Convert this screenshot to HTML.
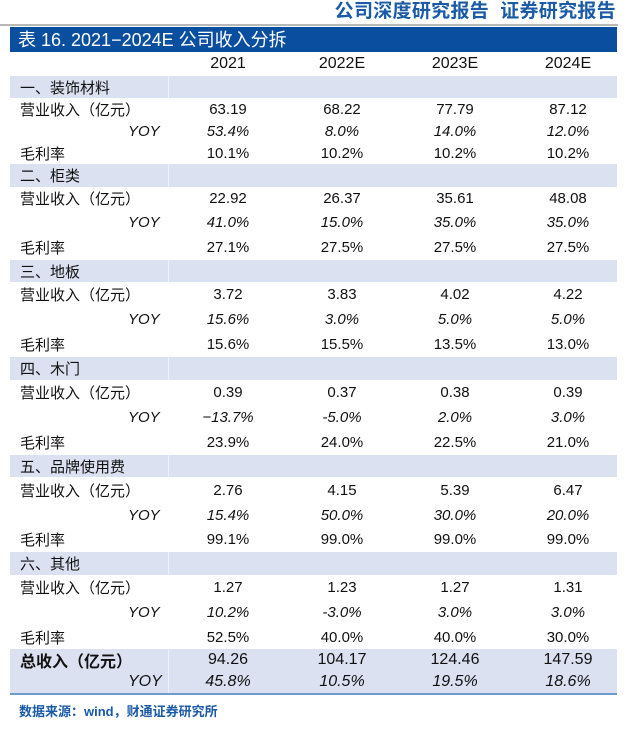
<!DOCTYPE html>
<html><head><meta charset="utf-8"><style>
body{margin:0;width:628px;height:729px;background:#fff;position:relative;font-family:"Liberation Sans","Noto Sans CJK SC",sans-serif;color:#111;overflow:hidden}
.hd{position:absolute;right:12px;top:0;font-size:19px;font-weight:bold;color:#1a5aa6;line-height:24px;font-family:"Liberation Sans","Noto Sans CJK SC",sans-serif;letter-spacing:0.3px}
.gl{position:absolute;left:0;top:24px;width:618px;height:2px;background:#b8b8b8}
.bar{position:absolute;left:10px;top:27px;width:607px;height:25px;background:#0a4f9f;color:#fff;font-size:18px;line-height:26px;padding-left:8px;box-sizing:border-box}
.r{position:absolute;left:10px;width:607px;font-size:15px}
.r.b{background:#dbe1f1}
.r.b::before{content:"";position:absolute;left:158px;top:0;bottom:0;width:1px;background:#eef1f8}
.r div{position:absolute;top:0;height:100%;display:flex;align-items:center}
.l{left:10px}
.y{left:118px;font-style:italic}
.c{justify-content:center;width:112px}
.c1{left:162px}.c2{left:276px}.c3{left:389px}.c4{left:502px}
.i{font-style:italic}
.line{position:absolute;left:10px;top:693px;width:607px;height:2px;background:#6f9bd0}
.src{position:absolute;left:19px;top:701px;font-size:13px;color:#1a5aa6;font-weight:bold}
</style></head><body>
<div class="hd">公司深度研究报告&nbsp;&nbsp;证券研究报告</div>
<div class="gl"></div>
<div class="bar">表 16. 2021−2024E 公司收入分拆</div>

<div class="r" style="top:52px;height:24px;font-size:16px"><div class="c c1">2021</div><div class="c c2">2022E</div><div class="c c3">2023E</div><div class="c c4">2024E</div></div>

<div class="r b" style="top:76px;height:22px"><div class="l">一、装饰材料</div></div>
<div class="r" style="top:98px;height:22px"><div class="l">营业收入（亿元）</div><div class="c c1">63.19</div><div class="c c2">68.22</div><div class="c c3">77.79</div><div class="c c4">87.12</div></div>
<div class="r" style="top:120px;height:23px"><div class="y">YOY</div><div class="c c1 i">53.4%</div><div class="c c2 i">8.0%</div><div class="c c3 i">14.0%</div><div class="c c4 i">12.0%</div></div>
<div class="r" style="top:143px;height:21px"><div class="l">毛利率</div><div class="c c1">10.1%</div><div class="c c2">10.2%</div><div class="c c3">10.2%</div><div class="c c4">10.2%</div></div>

<div class="r b" style="top:164px;height:23px"><div class="l">二、柜类</div></div>
<div class="r" style="top:187px;height:23px"><div class="l">营业收入（亿元）</div><div class="c c1">22.92</div><div class="c c2">26.37</div><div class="c c3">35.61</div><div class="c c4">48.08</div></div>
<div class="r" style="top:210px;height:24px"><div class="y">YOY</div><div class="c c1 i">41.0%</div><div class="c c2 i">15.0%</div><div class="c c3 i">35.0%</div><div class="c c4 i">35.0%</div></div>
<div class="r" style="top:234px;height:26px"><div class="l">毛利率</div><div class="c c1">27.1%</div><div class="c c2">27.5%</div><div class="c c3">27.5%</div><div class="c c4">27.5%</div></div>

<div class="r b" style="top:260px;height:22px"><div class="l">三、地板</div></div>
<div class="r" style="top:282px;height:25px"><div class="l">营业收入（亿元）</div><div class="c c1">3.72</div><div class="c c2">3.83</div><div class="c c3">4.02</div><div class="c c4">4.22</div></div>
<div class="r" style="top:307px;height:25px"><div class="y">YOY</div><div class="c c1 i">15.6%</div><div class="c c2 i">3.0%</div><div class="c c3 i">5.0%</div><div class="c c4 i">5.0%</div></div>
<div class="r" style="top:332px;height:25px"><div class="l">毛利率</div><div class="c c1">15.6%</div><div class="c c2">15.5%</div><div class="c c3">13.5%</div><div class="c c4">13.0%</div></div>

<div class="r b" style="top:357px;height:23px"><div class="l">四、木门</div></div>
<div class="r" style="top:380px;height:25px"><div class="l">营业收入（亿元）</div><div class="c c1">0.39</div><div class="c c2">0.37</div><div class="c c3">0.38</div><div class="c c4">0.39</div></div>
<div class="r" style="top:405px;height:25px"><div class="y">YOY</div><div class="c c1 i">−13.7%</div><div class="c c2 i">-5.0%</div><div class="c c3 i">2.0%</div><div class="c c4 i">3.0%</div></div>
<div class="r" style="top:430px;height:25px"><div class="l">毛利率</div><div class="c c1">23.9%</div><div class="c c2">24.0%</div><div class="c c3">22.5%</div><div class="c c4">21.0%</div></div>

<div class="r b" style="top:455px;height:22px"><div class="l">五、品牌使用费</div></div>
<div class="r" style="top:477px;height:26px"><div class="l">营业收入（亿元）</div><div class="c c1">2.76</div><div class="c c2">4.15</div><div class="c c3">5.39</div><div class="c c4">6.47</div></div>
<div class="r" style="top:503px;height:24px"><div class="y">YOY</div><div class="c c1 i">15.4%</div><div class="c c2 i">50.0%</div><div class="c c3 i">30.0%</div><div class="c c4 i">20.0%</div></div>
<div class="r" style="top:527px;height:25px"><div class="l">毛利率</div><div class="c c1">99.1%</div><div class="c c2">99.0%</div><div class="c c3">99.0%</div><div class="c c4">99.0%</div></div>

<div class="r b" style="top:552px;height:23px"><div class="l">六、其他</div></div>
<div class="r" style="top:575px;height:25px"><div class="l">营业收入（亿元）</div><div class="c c1">1.27</div><div class="c c2">1.23</div><div class="c c3">1.27</div><div class="c c4">1.31</div></div>
<div class="r" style="top:600px;height:25px"><div class="y">YOY</div><div class="c c1 i">10.2%</div><div class="c c2 i">-3.0%</div><div class="c c3 i">3.0%</div><div class="c c4 i">3.0%</div></div>
<div class="r" style="top:625px;height:24px"><div class="l">毛利率</div><div class="c c1">52.5%</div><div class="c c2">40.0%</div><div class="c c3">40.0%</div><div class="c c4">30.0%</div></div>

<div class="r b" style="top:649px;height:44px"></div>
<div class="r" style="top:649px;height:22px;font-size:16px"><div class="l" style="font-weight:bold">总收入（亿元）</div><div class="c c1">94.26</div><div class="c c2">104.17</div><div class="c c3">124.46</div><div class="c c4">147.59</div></div>
<div class="r" style="top:671px;height:22px;font-size:16px"><div class="y">YOY</div><div class="c c1 i">45.8%</div><div class="c c2 i">10.5%</div><div class="c c3 i">19.5%</div><div class="c c4 i">18.6%</div></div>
<div class="line"></div>
<div class="src">数据来源：wind，财通证券研究所</div>
</body></html>
